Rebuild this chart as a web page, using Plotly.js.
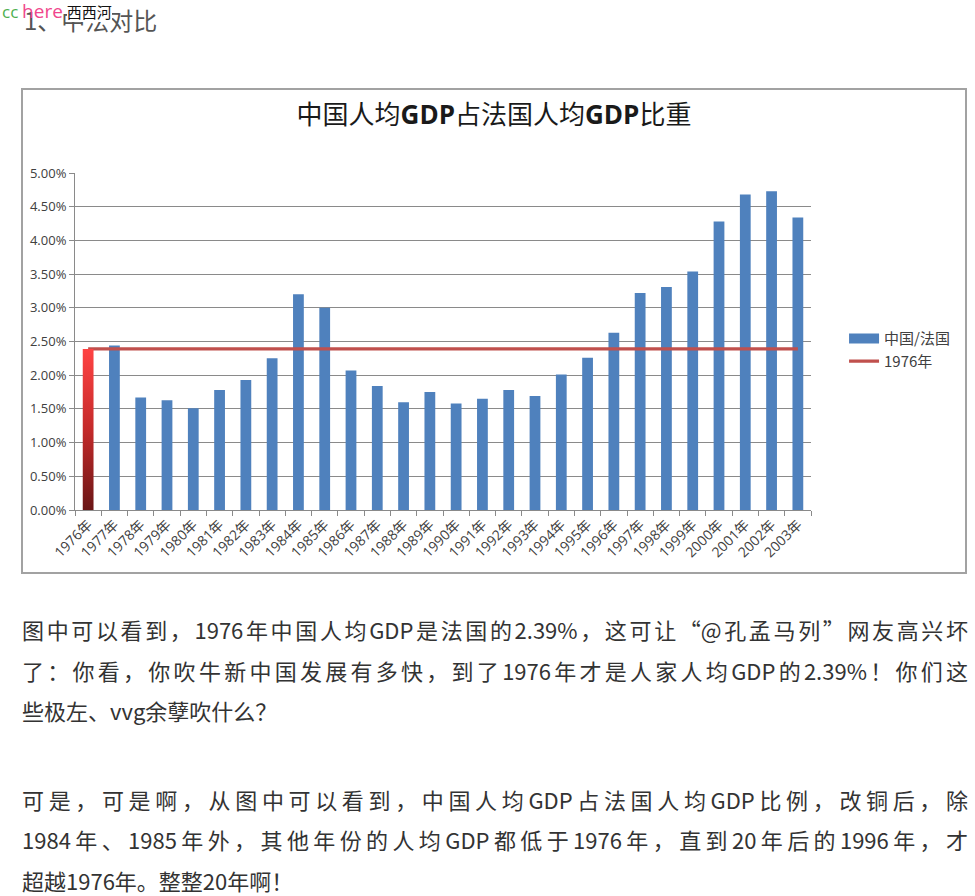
<!DOCTYPE html>
<html>
<head>
<meta charset="utf-8">
<script src="https://cdn.plot.ly/plotly-3.0.1.min.js"></script>
<style>
  html, body { margin:0; padding:0; background:#fff; width:975px; height:896px; overflow:hidden; }
  body { position:relative; font-family:"Noto Sans CJK SC", "Open Sans", sans-serif; color:#333; }
  #heading { position:absolute; left:24px; top:3px; font-size:24px; line-height:34px; color:#555; }
  #site { position:absolute; left:2px; top:1px; font-size:17px; line-height:20px; background:transparent; }
  #site .cc { color:#4caf50; font-family:"Open Sans", sans-serif; }
  #site .here { color:#f0468c; font-family:"Open Sans", sans-serif; font-size:19px; }
  #site .xxh { color:#111; font-size:15px; background:#fff; }
  #chartbox { position:absolute; left:21px; top:88px; width:942px; height:482px; border:2px solid #a2a2a2; }
  .ln { position:absolute; left:22px; width:946px; font-size:22px; line-height:40px; white-space:nowrap; color:#333; }
  .j { text-align:justify; text-align-last:justify; }
</style>
</head>
<body>
<div id="heading">1、中法对比</div>
<div id="site"><span class="cc">cc</span> <span class="here">here</span> <span class="xxh">西西河</span></div>
<div id="chartbox"><div id="chart" style="width:942px;height:482px;"></div></div>

<div class="ln j" style="top:609px;">图中可以看到，1976年中国人均GDP是法国的2.39%，这可让“@孔孟马列”网友高兴坏</div>
<div class="ln j" style="top:650px;">了：你看，你吹牛新中国发展有多快，到了1976年才是人家人均GDP的2.39%！你们这</div>
<div class="ln" style="top:690px;">些极左、vvg余孽吹什么？</div>
<div class="ln j" style="top:779px;">可是，可是啊，从图中可以看到，中国人均GDP占法国人均GDP比例，改铜后，除</div>
<div class="ln j" style="top:819px;">1984年、1985年外，其他年份的人均GDP都低于1976年，直到20年后的1996年，才</div>
<div class="ln" style="top:860px;">超越1976年。整整20年啊！</div>

<script>
// ---- data ----
const years = ['1976年','1977年','1978年','1979年','1980年','1981年','1982年','1983年','1984年','1985年',
               '1986年','1987年','1988年','1989年','1990年','1991年','1992年','1993年','1994年','1995年',
               '1996年','1997年','1998年','1999年','2000年','2001年','2002年','2003年'];
const ratio = [2.39, 2.44, 1.67, 1.63, 1.51, 1.78, 1.93, 2.25, 3.20, 3.00,
               2.07, 1.84, 1.60, 1.75, 1.58, 1.65, 1.78, 1.69, 2.01, 2.26,
               2.63, 3.22, 3.31, 3.54, 4.28, 4.68, 4.73, 4.34];
const baseYear = '1976年';
const baseValue = 2.39;
const seriesName = '中国/法国';
const lineName = '1976年';
const yTicks = [0, 0.5, 1, 1.5, 2, 2.5, 3, 3.5, 4, 4.5, 5];
const yTickText = yTicks.map(v => v.toFixed(2) + '%');

// ---- styles ----
const BLUE = '#4f81bd';
const RED = '#c0504d';
const GRID = '#8a8a8a';
const BARGAP = 0.59;
const FONT = 'Open Sans, Noto Sans CJK SC, sans-serif';

const baseIdx = years.indexOf(baseYear);
const half = (1 - BARGAP) / 2;

const traces = [
  { type:'bar', x: years, y: ratio, xaxis:'x', yaxis:'y',
    marker:{ color: years.map(y => y === baseYear ? 'rgba(0,0,0,0)' : BLUE) },
    showlegend:false, hoverinfo:'x+y' },
  { type:'scatter', mode:'lines', x: [null], y: [null], name: seriesName,
    line:{ color: BLUE, width: 10 }, showlegend:true, hoverinfo:'skip' },
  { type:'scatter', mode:'lines', x: years, y: years.map(() => baseValue), name: lineName,
    line:{ color: RED, width: 3.2 }, showlegend:true, hoverinfo:'skip' },
  { type:'scatter', mode:'lines', xaxis:'x2', yaxis:'y',
    x: [baseIdx - half, baseIdx - half, baseIdx + half, baseIdx + half, baseIdx - half],
    y: [0, ratio[baseIdx], ratio[baseIdx], 0, 0],
    fill:'toself', line:{ width:0, color:'rgba(0,0,0,0)' },
    fillcolor:'#d33030',
    fillgradient:{ type:'vertical', colorscale:[[0,'#6a1616'],[0.5,'#c42a2a'],[1,'#ff4343']] },
    showlegend:false, hoverinfo:'skip' }
];

const layout = {
  width: 942, height: 482,
  margin:{ l:52, r:154, t:83, b:62 },
  paper_bgcolor:'#fff', plot_bgcolor:'#fff',
  font:{ family: FONT, size:12, color:'#404040' },
  title:{ text:'中国人均<b>GDP</b>占法国人均<b>GDP</b>比重',
          font:{ family:'Open Sans, Noto Sans CJK SC, sans-serif', size:26, color:'#1a1a1a' },
          x:0.5, xref:'container', xanchor:'center', y:0.948, yref:'container', yanchor:'middle' },
  bargap: BARGAP,
  xaxis:{ type:'category', tickangle:-45, tickson:'boundaries', ticks:'outside', ticklen:5,
          tickcolor:GRID, showline:true, linecolor:GRID, linewidth:1, showgrid:false, automargin:false,
          tickfont:{ size:14, color:'#404040' }, fixedrange:true, range:[-0.5, years.length - 0.5] },
  xaxis2:{ overlaying:'x', range:[-0.5, years.length - 0.5], visible:false, fixedrange:true },
  yaxis:{ range:[0,5], tickmode:'array', tickvals: yTicks, ticktext: yTickText, ticks:'outside', ticklen:5,
          tickcolor:GRID, showline:true, linecolor:GRID, linewidth:1, showgrid:true, gridcolor:GRID, automargin:false,
          gridwidth:1, zeroline:false, tickfont:{ size:13, color:'#404040' }, fixedrange:true },
  legend:{ xref:'container', yref:'container', x:0.8716, xanchor:'left', y:0.461, yanchor:'middle',
           font:{ size:15, color:'#404040', family:'Noto Sans CJK SC, sans-serif' },
           bgcolor:'rgba(0,0,0,0)', tracegroupgap:0 },
  showlegend:true
};

Plotly.newPlot('chart', traces, layout, { displayModeBar:false, staticPlot:true });
</script>
</body>
</html>
